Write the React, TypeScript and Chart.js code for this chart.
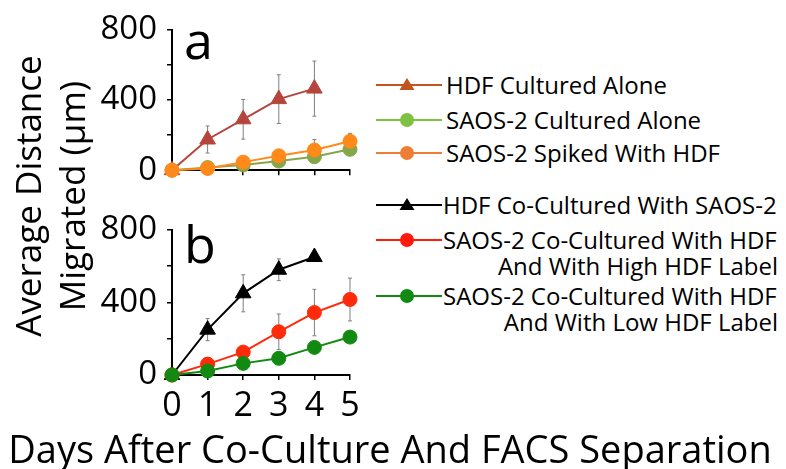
import React, { useEffect, useRef } from 'react';
import { Chart, registerables } from 'chart.js';

Chart.register(...registerables);

// ---------- data ----------
const days = [0, 1, 2, 3, 4, 5];
const yTickLabels = [0, 400, 800];

// panel a
const hdfAlone = [0, 175, 290, 405, 465];
const hdfAloneErr = [0, 77, 113, 139, 157];
const saosAlone = [0, 15, 30, 52, 77, 119];
const saosAloneErr = [0, 5, 8, 10, 15, 20];
const saosSpiked = [0, 10, 46, 82, 115, 165];
const saosSpikedErr = [0, 5, 10, 15, 60, 45];

// panel b
const hdfCo = [0, 250, 450, 580, 650];
const hdfCoErr = [0, 61, 102, 60, 15];
const saosHigh = [0, 60, 126, 238, 344, 416];
const saosHighErr = [0, 15, 20, 98, 128, 118];
const saosLow = [0, 22, 64, 92, 152, 209];
const saosLowErr = [0, 5, 10, 15, 20, 25];

const legendA = ['HDF Cultured Alone', 'SAOS-2 Cultured Alone', 'SAOS-2 Spiked With HDF'];
const legendB = [
  ['HDF Co-Cultured With SAOS-2'],
  ['SAOS-2 Co-Cultured With HDF', 'And With High HDF Label'],
  ['SAOS-2 Co-Cultured With HDF', 'And With Low HDF Label'],
];
const yTitle = ['Average Distance', 'Migrated (\u03bcm)'];
const xTitle = 'Days After Co-Culture And FACS Separation';

const FONT = "'Open Sans', sans-serif";

const pts = (vals: number[]) => vals.map((v, i) => ({ x: days[i], y: v }));

const errorBarPlugin = {
  id: 'errorBars',
  beforeDatasetsDraw(chart: any) {
    const ctx = chart.ctx;
    const ys = chart.scales.y;
    ctx.save();
    ctx.strokeStyle = '#7f7f7f';
    ctx.lineWidth = 1;
    chart.data.datasets.forEach((ds: any, i: number) => {
      const errs: number[] | undefined = ds.errors;
      if (!errs) return;
      const meta = chart.getDatasetMeta(i);
      ds.data.forEach((p: any, j: number) => {
        const e = errs[j];
        if (!e) return;
        const el = meta.data[j];
        const x = el.x;
        const top = ys.getPixelForValue(p.y + e);
        const bot = ys.getPixelForValue(p.y - e);
        ctx.beginPath();
        ctx.moveTo(x, top);
        ctx.lineTo(x, bot);
        ctx.moveTo(x - 2, top);
        ctx.lineTo(x + 2, top);
        ctx.moveTo(x - 2, bot);
        ctx.lineTo(x + 2, bot);
        ctx.stroke();
      });
    });
    ctx.restore();
  },
};

function series(vals: number[], errs: number[], color: string, style: string, order: number) {
  return {
    data: pts(vals),
    errors: errs,
    borderColor: color,
    backgroundColor: color,
    pointBackgroundColor: color,
    pointBorderColor: color,
    pointStyle: style,
    pointRadius: style === 'triangle' ? 9 : 7,
    pointBorderWidth: 1,
    borderWidth: 2,
    tension: 0,
    clip: false,
    order,
  };
}

function makeChart(canvas: HTMLCanvasElement, datasets: any[], padTop: number, xHeight: number, showX: boolean) {
  return new Chart(canvas, {
    type: 'line',
    data: { datasets },
    plugins: [errorBarPlugin],
    options: {
      responsive: false,
      devicePixelRatio: 1,
      animation: false,
      layout: { padding: { top: padTop, right: 20, left: 0, bottom: 0 } },
      plugins: { legend: { display: false }, tooltip: { enabled: false } },
      scales: {
        x: {
          type: 'linear',
          min: 0,
          max: 5,
          afterFit: (s: any) => { s.height = xHeight; },
          border: { display: true, color: '#000', width: 2 },
          grid: { display: true, drawOnChartArea: false, drawTicks: true, tickLength: 5, color: '#000', lineWidth: 1.5 },
          ticks: {
            display: showX,
            stepSize: 1,
            padding: 6,
            color: '#000',
            font: { family: FONT, size: 34 },
            maxRotation: 0,
            autoSkip: false,
          },
        },
        y: {
          min: 0,
          max: 800,
          afterFit: (s: any) => { s.width = 172; },
          border: { display: true, color: '#000', width: 2 },
          grid: { display: true, drawOnChartArea: false, drawTicks: true, tickLength: 5, color: '#000', lineWidth: 1.5 },
          ticks: {
            stepSize: 200,
            padding: 10,
            autoSkip: false,
            color: '#000',
            font: { family: FONT, size: 33 },
            callback: (v: any) => (yTickLabels.includes(Number(v)) ? String(v) : ''),
          },
        },
      },
    } as any,
  });
}

function Swatch({ color, shape, top, left }: { color: string; shape: string; top: number; left: number }) {
  return (
    <svg width={66} height={20} style={{ position: 'absolute', left, top: top - 10 }}>
      <line x1={0} y1={10} x2={66} y2={10} stroke={color} strokeWidth={2} />
      {shape === 'triangle' ? (
        <polygon points="31,3 38.5,15 23.5,15" fill={color} />
      ) : (
        <circle cx={31} cy={10} r={7} fill={color} />
      )}
    </svg>
  );
}

const textLine = (txt: string, cy: number, left: number | undefined, right: number | undefined) => (
  <div
    key={txt + cy}
    style={{
      position: 'absolute',
      left,
      right,
      top: cy,
      transform: 'translateY(-50%)',
      fontSize: 24,
      lineHeight: 1,
      whiteSpace: 'nowrap',
    }}
  >
    {txt}
  </div>
);

export default function App() {
  const refA = useRef<HTMLCanvasElement>(null);
  const refB = useRef<HTMLCanvasElement>(null);

  useEffect(() => {
    const a = makeChart(
      refA.current!,
      [
        series(saosSpiked, saosSpikedErr, '#ff8a1a', 'circle', 0),
        series(saosAlone, saosAloneErr, '#86a64a', 'circle', 1),
        series(hdfAlone, hdfAloneErr, '#b5453c', 'triangle', 2),
      ],
      23,
      22,
      false
    );
    const b = makeChart(
      refB.current!,
      [
        series(saosLow, saosLowErr, '#128a12', 'circle', 0),
        series(saosHigh, saosHighErr, '#ff2a0a', 'circle', 1),
        series(hdfCo, hdfCoErr, '#000000', 'triangle', 2),
      ],
      22,
      55,
      true
    );
    return () => {
      a.destroy();
      b.destroy();
    };
  }, []);

  const legendAColors = ['#c0561e', '#7dc242', '#ee7d35'];
  const legendAShapes = ['triangle', 'circle', 'circle'];
  const legendAY = [85, 120, 153];
  const legendBColors = ['#000000', '#ff1a0a', '#128a12'];
  const legendBShapes = ['triangle', 'circle', 'circle'];
  const legendBY = [205, 240, 296];

  return (
    <div
      style={{
        position: 'fixed',
        left: 0,
        top: 0,
        width: 786,
        height: 469,
        background: '#fff',
        fontFamily: FONT,
        color: '#000',
        overflow: 'hidden',
      }}
    >
      <canvas ref={refA} width={370} height={200} style={{ position: 'absolute', left: 0, top: 0, width: 370, height: 200 }} />
      <canvas ref={refB} width={370} height={230} style={{ position: 'absolute', left: 0, top: 200, width: 370, height: 230 }} />

      <div style={{ position: 'absolute', left: 184, top: 13, fontSize: 52, lineHeight: 1 }}>a</div>
      <div style={{ position: 'absolute', left: 184, top: 217, fontSize: 52, lineHeight: 1 }}>b</div>

      <div
        style={{
          position: 'absolute',
          left: 50 - 180,
          top: 196 - 44,
          width: 360,
          height: 88,
          fontSize: 35,
          lineHeight: '44px',
          textAlign: 'center',
          transform: 'rotate(-90deg)',
          whiteSpace: 'nowrap',
        }}
      >
        <div>{yTitle[0]}</div>
        <div>{yTitle[1]}</div>
      </div>

      <div
        style={{
          position: 'absolute',
          left: -10,
          width: 800,
          top: 429,
          fontSize: 38,
          lineHeight: 1,
          textAlign: 'center',
          whiteSpace: 'nowrap',
        }}
      >
        {xTitle}
      </div>

      {legendA.map((t, i) => (
        <React.Fragment key={t}>
          <Swatch color={legendAColors[i]} shape={legendAShapes[i]} top={legendAY[i]} left={376} />
          {textLine(t, legendAY[i], 446, undefined)}
        </React.Fragment>
      ))}
      {legendB.map((lines, i) => (
        <React.Fragment key={i}>
          <Swatch color={legendBColors[i]} shape={legendBShapes[i]} top={legendBY[i]} left={376} />
          {textLine(lines[0], legendBY[i], 443, undefined)}
          {lines[1] ? textLine(lines[1], legendBY[i] + 26, undefined, 8) : null}
        </React.Fragment>
      ))}
    </div>
  );
}
